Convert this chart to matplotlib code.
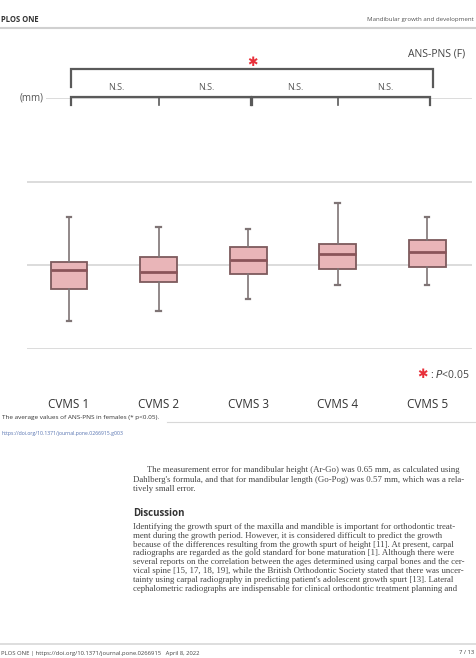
"""Page crop: box plot of ANS-PNS (females) by CVMS stage, with the surrounding PDF page text."""
import matplotlib
matplotlib.use("Agg")
import matplotlib.pyplot as plt

# ---------------------------------------------------------------- data (mm)
STAGES = ["CVMS 1", "CVMS 2", "CVMS 3", "CVMS 4", "CVMS 5"]
WHIS_LO = [41.7, 42.3, 43.0, 43.8, 43.8]
Q1 = [43.6, 44.0, 44.5, 44.8, 44.9]
MEDIAN = [44.7, 44.6, 45.3, 45.7, 45.8]
Q3 = [45.2, 45.5, 46.1, 46.3, 46.5]
WHIS_HI = [47.9, 47.3, 47.2, 48.7, 47.9]
GRID_MM = [40, 45, 50, 55]
# adjacent-stage comparisons: (stage a, stage b, label)
PAIRS = [(1, 2, "N.S."), (2, 3, "N.S."), (3, 4, "N.S."), (4, 5, "N.S.")]
OVERALL = (1, 5)          # CVMS 1 vs CVMS 5, p < 0.05

BODY1 = [
    "The measurement error for mandibular height (Ar-Go) was 0.65 mm, as calculated using",
    "Dahlberg's formula, and that for mandibular length (Go-Pog) was 0.57 mm, which was a rela-",
    "tively small error.",
]
BODY2 = [
    "Identifying the growth spurt of the maxilla and mandible is important for orthodontic treat-",
    "ment during the growth period. However, it is considered difficult to predict the growth",
    "because of the differences resulting from the growth spurt of height [11]. At present, carpal",
    "radiographs are regarded as the gold standard for bone maturation [1]. Although there were",
    "several reports on the correlation between the ages determined using carpal bones and the cer-",
    "vical spine [15, 17, 18, 19], while the British Orthodontic Society stated that there was uncer-",
    "tainty using carpal radiography in predicting patient's adolescent growth spurt [13]. Lateral",
    "cephalometric radiographs are indispensable for clinical orthodontic treatment planning and",
]

W, H = 476, 658
fig = plt.figure(figsize=(W / 100, H / 100), dpi=100)

# page layer in pixel coordinates
page = fig.add_axes([0, 0, 1, 1])
page.set_xlim(0, W)
page.set_ylim(H, 0)
page.axis("off")

SANS = ["Open Sans", "DejaVu Sans"]
SERIF = ["Liberation Serif", "DejaVu Serif"]

# header
page.text(1, 19, "PLOS ONE", fontsize=5.5, fontweight="bold", color="#333333",
          va="center", family=SANS)
page.text(474, 19, "Mandibular growth and development", fontsize=4.4, color="#555555",
          va="center", ha="right", family=SANS)
page.plot([0, W], [28, 28], color="#d0d0d0", lw=1.5)

# caption + doi link
page.text(2, 417, "The average values of ANS-PNS in females (* p<0.05).", fontsize=4.6,
          color="#333333", va="center", family=SANS)
page.plot([167, W], [422, 422], color="#d8d8d8", lw=0.8)
page.text(2, 433, "https://doi.org/10.1371/journal.pone.0266915.g003", fontsize=3.7,
          color="#5572b0", va="center", family=SANS)

# body text
y = 470
for i, line in enumerate(BODY1):
    page.text(147 if i == 0 else 133, y, line, fontsize=6.3, color="#444444",
              va="center", family=SERIF)
    y += 9.5
page.text(133, 514, "Discussion", fontsize=7, fontweight="bold", color="#333333",
          va="center", family=SANS)
y = 527
for line in BODY2:
    page.text(133, y, line, fontsize=6.3, color="#444444", va="center", family=SERIF)
    y += 8.8

# footer
page.plot([0, W], [644, 644], color="#d8d8d8", lw=1.2)
page.text(1, 653, "PLOS ONE | https://doi.org/10.1371/journal.pone.0266915   April 8, 2022",
          fontsize=4.2, color="#444444", va="center", family=SANS)
page.text(474, 653, "7 / 13", fontsize=4.2, color="#444444", va="center", ha="right",
          family=SANS)

# ---------------------------------------------------------------- chart
ax = fig.add_axes([27 / W, 1 - 349 / H, 445 / W, 251 / H])
ax.patch.set_alpha(0)
ax.set_xlim(0.53, 5.5)
ax.set_ylim(40, 55)

stats = [dict(med=m, q1=a, q3=b, whislo=lo, whishi=hi, label=s)
         for s, lo, a, m, b, hi in zip(STAGES, WHIS_LO, Q1, MEDIAN, Q3, WHIS_HI)]
ax.bxp(stats, positions=range(1, len(STAGES) + 1), widths=0.41, patch_artist=True,
       showfliers=False,
       boxprops=dict(facecolor="#e9b5b8", edgecolor="#7d5a5d", lw=1.3),
       medianprops=dict(color="#8a5459", lw=2.0),
       whiskerprops=dict(color="#7f7475", lw=1.2),
       capprops=dict(color="#7f7475", lw=1.6),
       capwidths=0.05)

ax.set_yticks(GRID_MM)
ax.yaxis.grid(True, color="#dcdcdc", lw=1.4)
ax.set_axisbelow(True)
ax.tick_params(axis="y", length=0, labelleft=False)
ax.tick_params(axis="x", length=0, pad=35.5, labelsize=8.5, labelcolor="#333333")
for lab in ax.get_xticklabels():
    lab.set_family(SANS)
for s in ax.spines.values():
    s.set_visible(False)

# significance brackets
BR = "#5a5a5a"
lo_y, lo_leg = 55.06, 54.6
for a, b, c in [(1, 3, 2), (3, 5, 4)]:
    x0, x1 = a + 0.02 + (0.02 if a == 3 else 0), b + 0.03
    ax.plot([x0, x0, x1, x1], [lo_leg, lo_y, lo_y, lo_leg], color=BR, lw=1.6,
            clip_on=False, solid_joinstyle="miter")
    ax.plot([c, c], [lo_y, lo_leg], color=BR, lw=1.2, clip_on=False)
for a, b, lab in PAIRS:
    ax.text((a + b) / 2 + 0.03, 55.62, lab, ha="center", va="center", fontsize=6.5,
            color="#555555", family=SANS)
a, b = OVERALL
ax.plot([a + 0.02, a + 0.02, b + 0.06, b + 0.06], [55.65, 56.73, 56.73, 55.65],
        color=BR, lw=1.6, clip_on=False, solid_joinstyle="miter")
ax.text((a + b) / 2 + 0.05, 57.1, "\u2731", ha="center", va="center", fontsize=9,
        color="#e8303a", family="DejaVu Sans")

ax.text(5.42, 57.6, "ANS-PNS (F)", ha="right", va="center", fontsize=7.5,
        color="#444444", family=SANS)
ax.text(0.58, 55.0, "(mm)", ha="center", va="center", fontsize=7, color="#555555",
        family=SANS, bbox=dict(facecolor="white", edgecolor="none", pad=1.5))

# legend for the asterisk
ax.text(4.95, 38.45, "\u2731", ha="center", va="center", fontsize=9, color="#e8303a",
        family="DejaVu Sans", clip_on=False)
ax.text(5.03, 38.45, ": $P$<0.05", ha="left", va="center", fontsize=7.5,
        color="#444444", family=SANS, clip_on=False)

fig.savefig("out.png", dpi=100)
